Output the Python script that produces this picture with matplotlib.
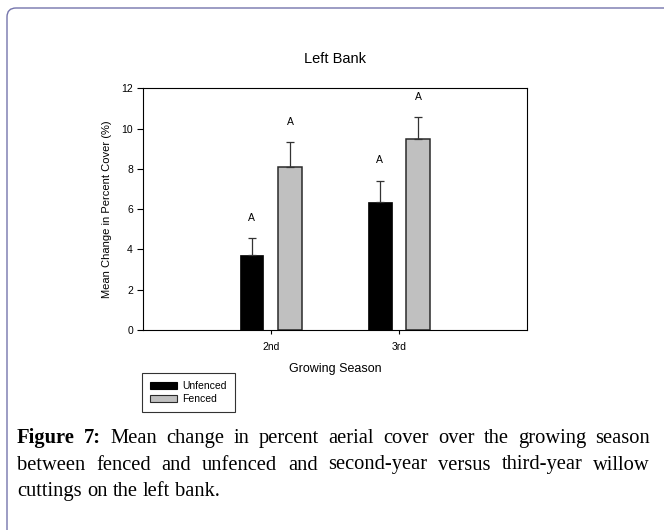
import numpy as np
import matplotlib
matplotlib.use("Agg")
import matplotlib.pyplot as plt
from matplotlib.patches import Patch, FancyBboxPatch
from matplotlib.transforms import IdentityTransform

# ─────────────────────────────────────────────
# DATA
# ─────────────────────────────────────────────
seasons      = ["2nd", "3rd"]
unfenced     = [3.72, 6.35]
unfenced_err = [0.86, 1.07]
fenced       = [8.10, 9.49]
fenced_err   = [1.24, 1.07]
unfenced_sig = ["A", "A"]
fenced_sig   = ["A", "A"]

caption_lines = [
    [("Figure", True), ("7:", True)] + [(w, False) for w in
        "Mean change in percent aerial cover over the growing season".split()],
    [(w, False) for w in
        "between fenced and unfenced and second-year versus third-year willow".split()],
    [(w, False) for w in "cuttings on the left bank.".split()],
]

W, H = 664, 530
SANS = ["Liberation Sans", "DejaVu Sans"]
SERIF = ["Liberation Serif", "DejaVu Serif"]
plt.rcParams["font.family"] = SANS

fig = plt.figure(figsize=(W / 100, H / 100), dpi=100, facecolor="white")

# page frame (rounded corner top-left, open to the right and bottom)
frame = FancyBboxPatch((7, -40), W + 40, H - 8 + 40,
                       boxstyle="round,pad=0,rounding_size=9",
                       transform=IdentityTransform(), fill=False,
                       edgecolor="#7474ac", lw=1.0)
fig.add_artist(frame)

# ─────────────────────────────────────────────
# BAR CHART
# ─────────────────────────────────────────────
ax = fig.add_axes([142.7 / W, 1 - 330 / H, (527 - 142.7) / W, (330 - 88.3) / H])

x     = np.arange(len(seasons)) + 1
width = 0.185
off   = 0.15

err_kw = dict(ecolor="#333333", elinewidth=0.9, capsize=2.9, capthick=0.9)
ax.bar(x - off, unfenced, width, color="black", edgecolor="black", lw=0.5,
       yerr=[np.zeros(len(x)), unfenced_err], error_kw=err_kw, zorder=2)
ax.bar(x + off, fenced, width, color="#c0c0c0", edgecolor="#2a2a2a", lw=1.1,
       yerr=[np.zeros(len(x)), fenced_err], error_kw=err_kw, zorder=2)

for xi, v, e, s in zip(x - off, unfenced, unfenced_err, unfenced_sig):
    ax.text(xi, v + e + 1.0, s, ha="center", va="center", fontsize=7.5)
for xi, v, e, s in zip(x + off, fenced, fenced_err, fenced_sig):
    ax.text(xi, v + e + 1.0, s, ha="center", va="center", fontsize=7.5)

ax.set_xlim(0, 3)
ax.set_ylim(0, 12)
ax.set_yticks(np.arange(0, 13, 2))
ax.set_xticks(x)
ax.set_xticklabels(seasons)
ax.tick_params(axis="y", direction="out", length=4, width=0.8, labelsize=7.5, pad=3)
ax.tick_params(axis="x", direction="out", length=3, width=0.8, labelsize=7.5, pad=5.5)
for sp in ax.spines.values():
    sp.set_linewidth(0.8)

ax.set_ylabel("Mean Change in Percent Cover (%)", fontsize=8, labelpad=7)
ax.set_xlabel("Growing Season", fontsize=9, labelpad=8)
fig.text(0.5047, 1 - 59 / H, "Left Bank", ha="center", va="center", fontsize=10.5)

handles = [Patch(facecolor="black", edgecolor="black", lw=0.8, label="Unfenced"),
           Patch(facecolor="#c0c0c0", edgecolor="#2a2a2a", lw=0.8, label="Fenced")]
leg = fig.legend(handles=handles, loc="upper left",
                 bbox_to_anchor=(142.3 / W, 1 - 373.3 / H),
                 fontsize=7.5, frameon=True, fancybox=False,
                 handlelength=2.6, handleheight=0.65, handletextpad=0.5,
                 labelspacing=0.3, borderpad=0.75, borderaxespad=0)
leg.get_frame().set_edgecolor("black")
leg.get_frame().set_linewidth(0.8)

# ─────────────────────────────────────────────
# CAPTION (justified, drawn word by word)
# ─────────────────────────────────────────────
renderer = fig.canvas.get_renderer()
x0, x1 = 17, 650
baselines = [443.3, 469.5, 495.8]
for i, (line, y_px) in enumerate(zip(caption_lines, baselines)):
    texts = [fig.text(0, 0, w, fontsize=14.8, family=SERIF,
                      weight="bold" if b else "normal", va="baseline",
                      ha="left", transform=IdentityTransform())
             for w, b in line]
    widths = [t.get_window_extent(renderer).width for t in texts]
    if i < len(caption_lines) - 1:
        gap = (x1 - x0 - sum(widths)) / (len(widths) - 1)
    else:
        gap = 0.25 * 14.8 * 100 / 72
    xc = x0
    for t, w in zip(texts, widths):
        t.set_position((xc, H - y_px))
        xc += w + gap

fig.savefig("out.png", dpi=100, facecolor="white")
